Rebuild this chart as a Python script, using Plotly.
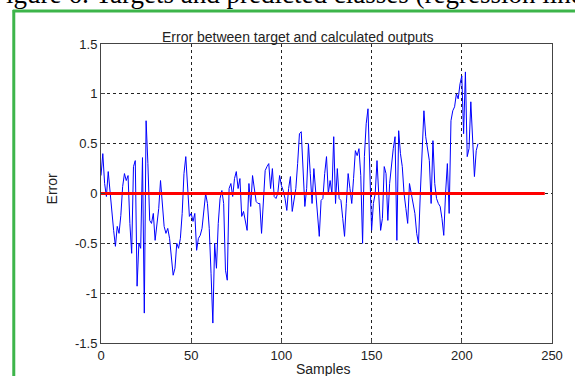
import plotly.graph_objects as go

# ---- data ----
error_values = [
    0.18, 0.40, 0.10, -0.03, 0.22, 0.00, -0.20, -0.37, -0.53, -0.33,
    -0.40, -0.22, 0.07, 0.20, 0.13, 0.18, -0.30, -0.60, 0.27, 0.33,
    -0.93, -0.50, -0.55, 0.36, -1.20, 0.73, 0.30, -0.27, -0.30, -0.20,
    -0.47, -0.30, -0.15, 0.13, -0.10, -0.33, -0.40, -0.35, -0.45, -0.65,
    -0.82, -0.75, -0.50, -0.55, -0.45, -0.20, 0.20, 0.37, 0.05, -0.23,
    -0.20, -0.28, -0.20, -0.57, -0.45, -0.42, -0.35, -0.20, 0.00, -0.10,
    -0.35, -0.80, -1.30, -0.50, -0.75, -0.30, -0.05, 0.03, -0.10, -0.77,
    -0.87, 0.05, 0.10, -0.03, 0.15, 0.22, 0.05, 0.15, -0.23, -0.18,
    -0.30, -0.37, 0.10, -0.13, 0.18, 0.05, -0.08, -0.10, -0.10, -0.40,
    -0.10, 0.23, 0.27, 0.30, 0.05, 0.25, -0.03, -0.05, 0.00, 0.18,
    0.08, 0.03, -0.05, -0.17, 0.05, 0.17, -0.18, -0.05, 0.05, 0.30,
    0.60, 0.62, 0.30, -0.13, 0.05, 0.50, 0.20, -0.10, 0.25, 0.05,
    -0.20, -0.43, -0.07, -0.05, 0.20, 0.37, 0.00, 0.13, 0.00, 0.57,
    -0.10, 0.25, -0.05, -0.07, -0.25, -0.43, -0.10, 0.20, 0.05, -0.10,
    0.15, 0.43, 0.38, 0.45, 0.18, -0.50, 0.37, 0.70, 0.85, 0.20,
    -0.37, -0.10, 0.00, 0.33, 0.00, -0.37, -0.25, 0.27, 0.20, -0.27,
    0.10, 0.30, 0.45, 0.57, -0.47, 0.63, 0.40, 0.27, 0.00, -0.15,
    -0.30, 0.10, 0.00, -0.10, -0.20, -0.40, -0.50, 0.00, 0.50, 0.83,
    0.57, 0.45, 0.33, -0.10, 0.53, 0.10, -0.05, -0.10, -0.13, -0.25,
    -0.42, 0.00, 0.30, -0.20, 0.73, 0.83, 0.87, 1.00, 0.95, 1.10,
    1.18, 0.60, 1.22, 0.37, 0.45, 0.92, 0.50, 0.17, 0.43, 0.50,
]
samples = list(range(len(error_values)))
zero_line_x = [0, 246]
zero_line_y = [0, 0]
x_ticks = [0, 50, 100, 150, 200, 250]
y_ticks = [-1.5, -1, -0.5, 0, 0.5, 1, 1.5]
y_tick_labels = ["-1.5", "-1", "-0.5", "0", "0.5", "1", "1.5"]

FONT = "Arial, Liberation Sans, sans-serif"

# pixel geometry of plot area
L, R, T, B = 101, 556, 44, 343
W, H = 575, 376


def px(x):
    return (x - L) / (R - L)


def py(y):
    return (B - y) / (B - T)


fig = go.Figure()
fig.add_trace(go.Scatter(x=samples, y=error_values, mode="lines",
                         line=dict(color="#0000FF", width=1), showlegend=False))
fig.add_trace(go.Scatter(x=zero_line_x, y=zero_line_y, mode="lines",
                         line=dict(color="#FF0000", width=3), showlegend=False))

axis_common = dict(showline=True, mirror=True, linecolor="#444444", linewidth=1,
                   ticks="inside", ticklen=4, tickcolor="#444444",
                   showgrid=True, gridcolor="#222222", gridwidth=1,
                   zeroline=False, tickfont=dict(family=FONT, size=13, color="#222222"))

fig.update_xaxes(range=[0, 250], tickvals=x_ticks, griddash="dot", **axis_common)
fig.update_yaxes(range=[-1.5, 1.5], tickvals=y_ticks, ticktext=y_tick_labels,
                 griddash="3px,3px", **axis_common)

green = "#3DB54A"
shapes = [
    dict(type="line", xref="paper", yref="paper", x0=px(13), x1=px(13), y0=py(10), y1=py(390),
         line=dict(color=green, width=3)),
    dict(type="line", xref="paper", yref="paper", x0=px(12), x1=px(600), y0=py(11), y1=py(11),
         line=dict(color=green, width=3)),
]

annotations = [
    dict(text="Error between target and calculated outputs", xref="paper", yref="paper",
         x=px(300), y=py(37), xanchor="center", yanchor="middle", showarrow=False,
         font=dict(family=FONT, size=14, color="#222222")),
    dict(text="Samples", xref="paper", yref="paper", x=px(325), y=py(369),
         xanchor="center", yanchor="middle", showarrow=False,
         font=dict(family=FONT, size=14, color="#222222")),
    dict(text="Error", xref="paper", yref="paper", x=px(52), y=py(189),
         xanchor="center", yanchor="middle", showarrow=False, textangle=-90,
         font=dict(family=FONT, size=14, color="#222222")),
    dict(text="Figure 6: Targets and predicted classes (regression line",
         xref="paper", yref="paper", x=px(-12), y=py(-6), xanchor="left", yanchor="middle",
         showarrow=False, font=dict(family="Liberation Serif, Times New Roman, serif", size=27,
                                    color="#000000")),
]

fig.update_layout(width=W, height=H, margin=dict(l=L, r=W - R, t=T, b=H - B),
                  paper_bgcolor="white", plot_bgcolor="white",
                  shapes=shapes, annotations=annotations, showlegend=False)

fig.write_html("out.html")
